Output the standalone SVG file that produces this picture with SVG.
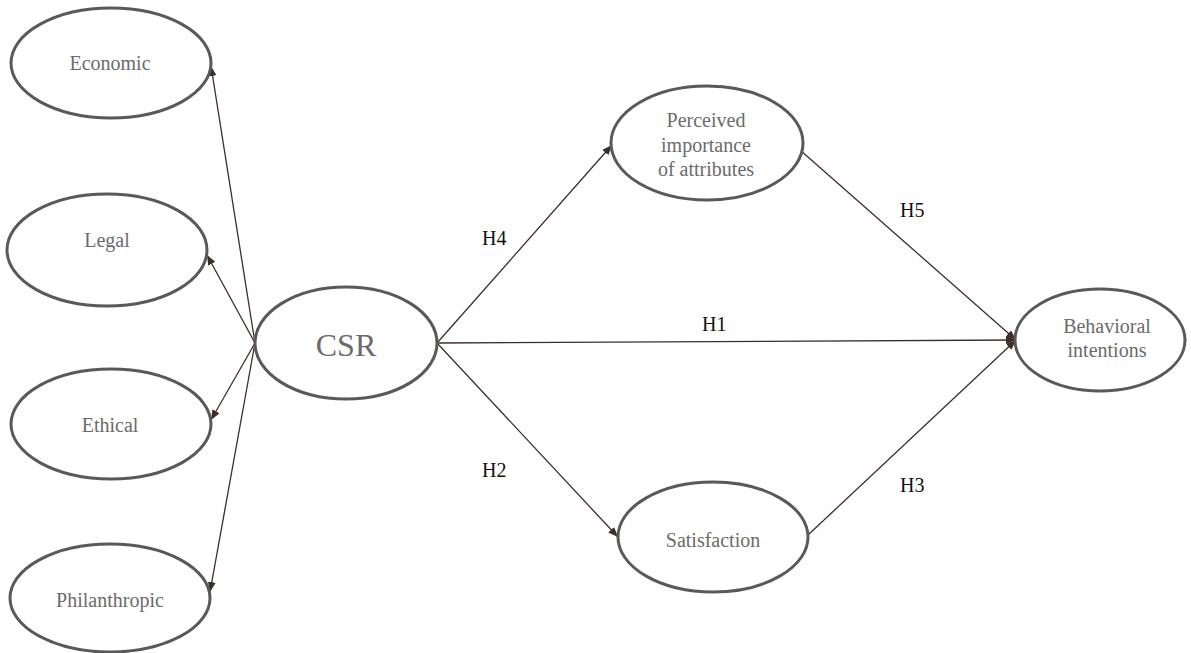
<svg xmlns="http://www.w3.org/2000/svg" width="1191" height="653" viewBox="0 0 1191 653">
<style>
.n{fill:#fff;stroke:#595959;stroke-width:3}
.t{font-size:20px;fill:#6b6b6b;text-anchor:middle}
.big{font-size:32px}
.c{stroke:#3b2e2b;stroke-width:1.3;fill:none;marker-end:url(#ah)}
.h{font-size:20px;fill:#111}
</style>
<defs>
<marker id="ah" viewBox="0 0 10 8" refX="10" refY="4" markerWidth="10" markerHeight="8" markerUnits="userSpaceOnUse" orient="auto">
<path d="M0,0 L10,4 L0,8 Z" fill="#3b2e2b"/>
</marker>
</defs>
<g id="connectors">
<line class="c" x1="255" y1="343" x2="211" y2="66"/>
<line class="c" x1="255" y1="343" x2="207" y2="255"/>
<line class="c" x1="255" y1="343" x2="211" y2="420"/>
<line class="c" x1="255" y1="343" x2="210" y2="592"/>
<line class="c" x1="437" y1="343" x2="612" y2="145"/>
<line class="c" x1="437" y1="343" x2="618" y2="537"/>
<line class="c" x1="437" y1="343" x2="1016" y2="340"/>
<line class="c" x1="800" y1="150" x2="1016" y2="340"/>
<line class="c" x1="808" y1="535" x2="1016" y2="340"/>
<g font-family="'Liberation Serif', 'Times New Roman', serif">
<text class="h" x="482" y="245">H4</text>
<text class="h" x="900" y="217">H5</text>
<text class="h" x="702" y="331">H1</text>
<text class="h" x="482" y="477">H2</text>
<text class="h" x="900" y="492">H3</text>
</g>
</g>
<g font-family="'Liberation Serif', 'Times New Roman', serif">
<g id="economic"><ellipse class="n" cx="111" cy="63" rx="100" ry="55"/><text class="t" x="110" y="70">Economic</text></g>
<g id="legal"><ellipse class="n" cx="107" cy="250" rx="100" ry="56"/><text class="t" x="107" y="247">Legal</text></g>
<g id="ethical"><ellipse class="n" cx="111" cy="424" rx="100" ry="55"/><text class="t" x="110" y="432">Ethical</text></g>
<g id="philanthropic"><ellipse class="n" cx="110" cy="598" rx="100" ry="54"/><text class="t" x="110" y="607">Philanthropic</text></g>
<g id="csr"><ellipse class="n" cx="346" cy="343" rx="91" ry="56"/><text class="t big" x="346" y="356">CSR</text></g>
<g id="perceived"><ellipse class="n" cx="707" cy="143" rx="96" ry="57"/><text class="t" x="706" y="127">Perceived</text><text class="t" x="706" y="152">importance</text><text class="t" x="706" y="176">of attributes</text></g>
<g id="satisfaction"><ellipse class="n" cx="713" cy="537" rx="95" ry="55"/><text class="t" x="713" y="547">Satisfaction</text></g>
<g id="behavioral"><ellipse class="n" cx="1100" cy="340" rx="85" ry="51"/><text class="t" x="1107" y="333">Behavioral</text><text class="t" x="1107" y="357">intentions</text></g>
</g>
</svg>
